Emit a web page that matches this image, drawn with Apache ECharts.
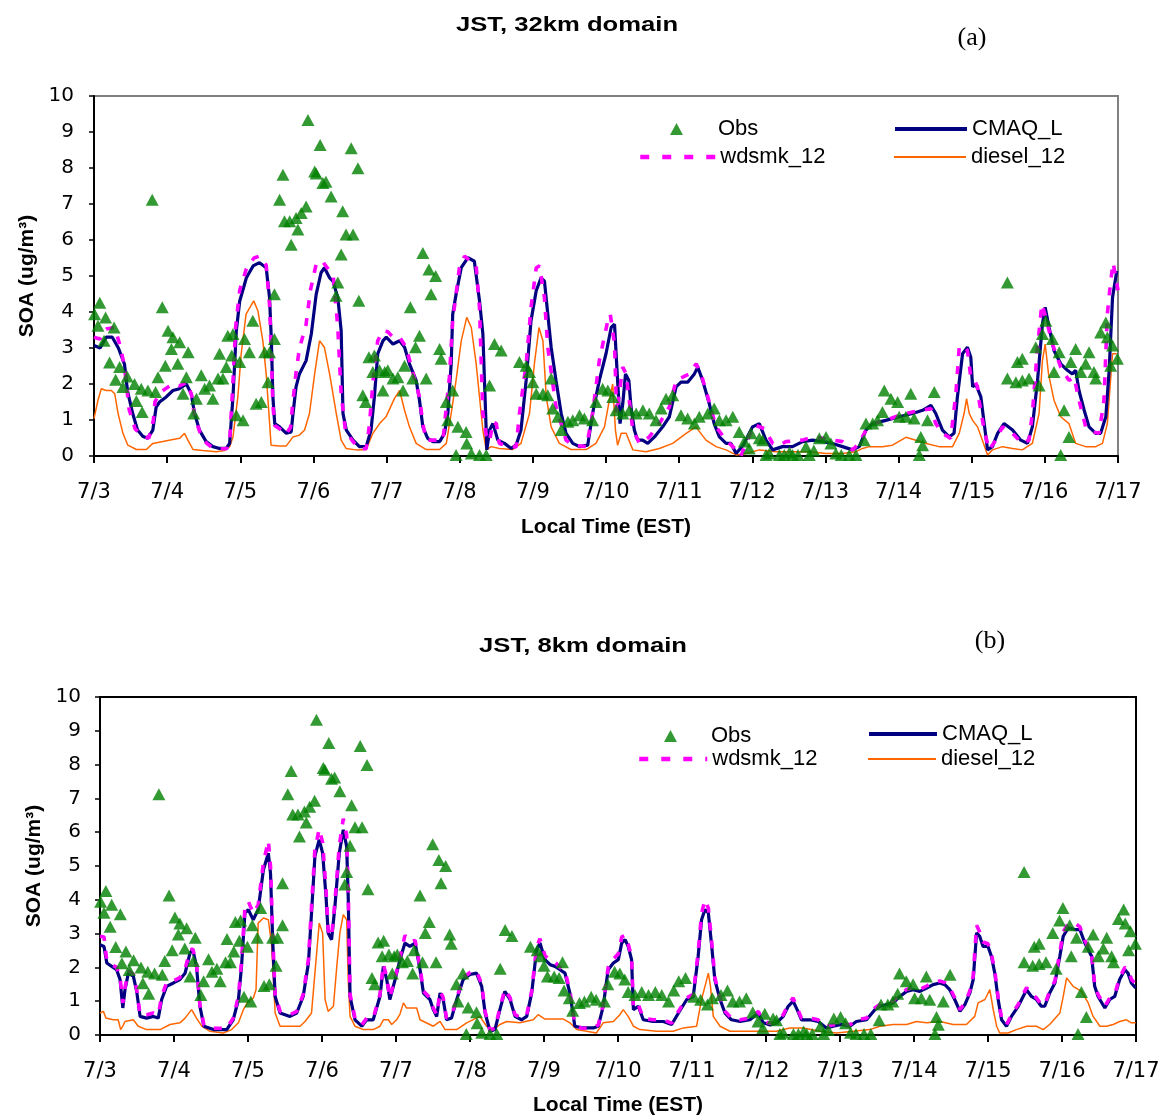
<!DOCTYPE html>
<html>
<head>
<meta charset="utf-8">
<script src="https://cdn.jsdelivr.net/npm/echarts@6/dist/echarts.min.js"></script>
<style>
  html, body { margin: 0; padding: 0; background: #fff; }
  #chart { width: 1164px; height: 1119px; }
</style>
</head>
<body>
<div id="chart"></div>
<script>
// x values are hours since 7/3 00:00 EST; y values are SOA in ug/m3
const dayLabels = ['7/3','7/4','7/5','7/6','7/7','7/8','7/9','7/10','7/11','7/12','7/13','7/14','7/15','7/16','7/17'];
const panelTitles = ['JST, 32km domain', 'JST, 8km domain'];
const panelTags = ['(a)', '(b)'];

// 32 km domain
const cmaq32 = [[0,3.07],[2,3.0],[4,3.3],[6,3.3],[8,3.0],[10,2.55],[11,1.8],[12.7,1.18],[14.3,0.72],[16,0.55],[17.6,0.49],[19.3,0.72],[20.4,1.36],[21.5,1.5],[23.7,1.64],[25.9,1.82],[28,1.87],[30.3,2.0],[31.9,1.73],[33,1.18],[34.6,0.72],[36.8,0.4],[39,0.26],[41.2,0.21],[43.4,0.21],[44.5,0.35],[45.6,1.64],[46.7,3.48],[47.8,4.3],[50,4.95],[52.2,5.28],[54.3,5.37],[56.5,5.23],[57.6,4.4],[58.2,3.2],[58.7,1.64],[59.3,0.9],[60.9,0.81],[63.1,0.63],[64.7,0.67],[65.3,1.18],[66.3,1.92],[67.4,2.28],[69.6,2.65],[71.3,3.39],[72.9,4.49],[74.5,5.09],[75.6,5.23],[77.3,4.95],[78.4,4.86],[80,4.4],[81.1,3.48],[81.7,1.18],[82.8,0.72],[85,0.44],[87.1,0.26],[89.3,0.26],[90.9,0.72],[92,1.64],[93.1,2.84],[94.8,3.2],[95.9,3.3],[98.1,3.11],[100.3,3.2],[101.9,3.02],[103.5,2.56],[105.7,2.1],[106.8,1.55],[107.9,0.81],[109.5,0.49],[111.2,0.4],[113.4,0.4],[115,0.63],[116.1,1.18],[117.2,2.56],[117.7,3.94],[118.8,4.49],[120.5,5.23],[122.7,5.51],[124.8,5.41],[126.5,4.31],[127.6,3.39],[128.5,1.18],[128.9,0.17],[129.8,0.72],[130.9,0.9],[132.5,0.44],[134.7,0.35],[136.9,0.21],[138.5,0.3],[140.1,0.72],[141.8,2.1],[143.4,3.76],[145.1,4.59],[146.7,4.95],[147.8,4.86],[148.9,3.94],[150,3.02],[151.6,2.1],[153.3,1.18],[154.9,0.63],[157.1,0.35],[159.3,0.26],[162,0.3],[163.6,1.18],[165.8,2.1],[168,2.84],[169.7,3.57],[170.8,3.66],[171.5,2.56],[172.6,0.9],[173.5,1.45],[174.4,2.28],[175.5,2.1],[176.2,1.36],[177.3,0.72],[178.4,0.44],[180,0.44],[181.7,0.35],[183.9,0.53],[186.6,0.81],[188.8,1.09],[191,1.92],[192.6,2.05],[194.8,2.05],[197,2.28],[198.1,2.47],[199.7,2.1],[201.9,1.45],[203.5,0.9],[205.2,0.53],[207.4,0.35],[209,0.35],[210.7,0.07],[213,0.3],[216.1,0.81],[218.3,0.9],[220.5,0.44],[222.7,0.17],[225.9,0.26],[229.2,0.26],[232.5,0.4],[235.8,0.44],[239.1,0.4],[242.3,0.35],[245.6,0.26],[248.9,0.17],[251.1,0.26],[253.3,0.72],[255.5,0.9],[259.8,0.99],[264.2,1.09],[268.6,1.18],[271.9,1.27],[274.6,1.41],[276.2,1.18],[278.4,0.72],[280.6,0.53],[282.2,0.63],[283.3,1.64],[285,2.84],[286.6,3.02],[287.7,2.74],[288.3,1.92],[289.3,2.0],[291,1.64],[292.1,0.9],[293.2,0.17],[294.8,0.26],[296.5,0.63],[298.6,0.9],[301.4,0.72],[304.1,0.44],[306.3,0.35],[307.9,0.81],[309.6,2.1],[311.2,3.66],[312.1,4.13],[313.4,3.57],[315,2.93],[317.2,2.56],[319.4,2.38],[321,2.28],[322.1,2.38],[323.2,1.82],[324.9,1.27],[326.5,0.81],[328.7,0.63],[330.3,0.63],[332,1.09],[333.1,2.38],[334.2,4.4],[335.6,5.14]];

const wdsmk32 = [[0,3.3],[1.9,3.25],[4,3.53],[6.8,3.57],[8.4,3.11],[10,2.5],[11.5,1.3],[13.5,0.75],[16,0.55],[18,0.5],[19.5,1.0],[20,1.5],[21.5,1.75],[24,1.9],[26,2.0],[28,1.95],[30.5,2.05],[32,1.7],[33,1.1],[35,0.6],[37,0.35],[39,0.22],[41,0.2],[43.5,0.2],[44.5,0.4],[45.5,1.9],[46.5,3.6],[47.8,4.6],[50,5.2],[52.5,5.5],[54.2,5.55],[56.5,5.3],[57.6,4.2],[58.2,2.8],[58.7,1.4],[59.3,0.85],[61,0.75],[63,0.6],[64.5,0.8],[65.3,1.55],[66.4,2.4],[67.4,2.98],[69.6,3.66],[71,4.6],[73,5.37],[75,5.4],[77.3,5.14],[78.5,5.0],[80,3.57],[81.1,1.73],[82.5,0.7],[85,0.4],[87.1,0.2],[89.3,0.2],[90.3,0.81],[92,2.5],[93.1,3.2],[94.8,3.48],[96.4,3.45],[98.1,3.3],[100.3,3.3],[102.4,3.02],[106.8,1.64],[107.9,0.9],[109,0.44],[111,0.44],[114.5,0.44],[116.6,2.19],[117.7,3.76],[119.9,5.23],[121.6,5.55],[125.4,5.28],[126.5,4.1],[127.6,1.18],[128.7,0.6],[129.8,0.4],[130.9,0.95],[132,0.9],[133,0.35],[135,0.3],[138.5,0.25],[139.6,1.18],[141.8,2.56],[143.4,4.13],[145.1,5.23],[146.2,5.28],[147.8,4.4],[148.9,3.02],[151.6,1.36],[154.9,0.44],[157,0.3],[161.6,0.26],[163.6,1.18],[165.8,2.65],[168.6,3.76],[169.4,3.94],[170.8,3.11],[171.5,1.18],[173.5,2.47],[174.6,2.28],[176.8,0.72],[179,0.35],[182.2,0.53],[185.5,0.9],[188.8,1.36],[191,2.1],[193.2,2.19],[195.3,2.28],[197.6,2.56],[199.2,2.28],[201.4,1.64],[204.1,0.81],[207.4,0.44],[210.7,0.17],[212.3,0.0],[213.9,0.35],[216.7,0.86],[220,0.76],[222.7,0.35],[225,0.3],[227,0.4],[232.5,0.44],[235.8,0.53],[239.1,0.49],[242.3,0.44],[245.6,0.4],[248.9,0.17],[251.1,0.35],[253.3,0.72],[255.5,0.9],[259.8,0.99],[264.2,1.13],[268.6,1.22],[271.9,1.27],[274.6,1.32],[276.2,0.9],[278.4,0.63],[281.1,0.49],[282.8,1.73],[283.9,3.02],[285.2,3.07],[286.6,2.93],[287.7,2.19],[288.8,2.1],[289.9,1.93],[290.4,1.55],[292.1,0.72],[293.7,0.17],[295.9,0.44],[298.1,0.81],[301.4,0.63],[304.6,0.35],[306.8,0.44],[307.9,1.18],[309.6,3.02],[311,4.22],[312.3,3.85],[314.5,3.11],[317.2,2.47],[319.9,2.1],[321.6,2.19],[323.2,1.55],[325.4,0.81],[327.6,0.67],[329.8,0.63],[331.4,1.55],[332.5,3.94],[333.6,4.86],[334.4,5.37],[336,4.6]];

const diesel32 = [[0,1.04],[1.3,1.55],[2.4,1.87],[4,1.82],[5.7,1.82],[6.8,1.73],[7.9,1.18],[9.5,0.63],[11.1,0.3],[13.9,0.18],[17.2,0.18],[19.3,0.35],[22.6,0.4],[25.9,0.46],[28.1,0.49],[29.7,0.63],[30.8,0.44],[32.5,0.18],[35.7,0.15],[40.1,0.12],[42.8,0.15],[44.5,0.26],[45.6,0.53],[47.2,1.64],[48.3,2.84],[49.9,3.94],[52.4,4.31],[53.8,4.03],[55.4,3.2],[56.5,2.28],[57.4,1.18],[58.1,0.3],[60.9,0.28],[63.1,0.28],[65.3,0.53],[67.4,0.58],[69.1,0.72],[70.7,1.18],[72.4,2.28],[74,3.2],[75.6,3.02],[77.3,2.28],[79.5,1.18],[81.1,0.44],[82.7,0.21],[86,0.17],[89.3,0.18],[91.5,0.63],[93.7,0.9],[95.9,1.1],[98.6,1.6],[100.3,1.82],[101.9,1.27],[103.5,0.81],[105.7,0.35],[109,0.18],[113.4,0.18],[115.6,0.35],[117.2,1.18],[118.8,2.1],[120.5,3.2],[122.3,3.85],[123.8,3.57],[125.4,2.56],[126.5,1.64],[127.6,0.72],[128.7,0.17],[130.3,0.26],[133,0.21],[137.4,0.18],[140.1,0.35],[142.9,1.18],[144.5,2.56],[146,3.57],[147.3,3.2],[148.4,1.64],[150,0.81],[152.7,0.35],[156.5,0.18],[161.5,0.18],[164.7,0.35],[167.5,0.81],[169.1,1.55],[170.2,2.0],[171.1,0.72],[171.8,0.3],[173,0.63],[174.6,0.63],[176.8,0.17],[181.1,0.12],[185.5,0.21],[189.9,0.35],[194.3,0.63],[197.5,0.81],[200.8,0.44],[204.1,0.26],[207.4,0.17],[210.7,0.03],[214,0.07],[218.3,0.17],[223.8,0.12],[229.2,0.12],[234.7,0.12],[240.2,0.07],[245.6,0.07],[250,0.12],[252.2,0.21],[254.4,0.26],[258.7,0.26],[262,0.3],[266.4,0.52],[269.7,0.44],[273,0.35],[277.3,0.26],[281.7,0.26],[283.9,0.63],[285.5,1.18],[286.3,1.59],[287.2,1.18],[288.3,0.99],[289.9,0.81],[291.5,0.44],[293.2,0.03],[294.8,0.17],[298.1,0.26],[301.4,0.21],[304.6,0.17],[307.9,0.35],[310.1,1.18],[311.2,2.65],[312.1,3.11],[313.2,2.28],[315,1.55],[317.2,1.09],[319.9,0.9],[322.1,0.35],[325.4,0.26],[328.7,0.26],[330.9,0.35],[332.5,0.9],[334.2,2.84],[335.6,2.84]];

// 8 km domain
const cmaq8 = [[0,2.67],[1.3,2.62],[2.2,2.13],[3.8,2.03],[5.4,1.93],[6.5,1.64],[7.4,0.8],[8.1,1.34],[9.2,1.83],[10.8,1.74],[11.9,1.29],[13,0.55],[15.1,0.5],[17.3,0.55],[18.9,0.5],[20,1.05],[21.6,1.44],[23.8,1.54],[25.9,1.64],[27.6,1.83],[29.2,2.43],[30.1,2.52],[31.3,2.03],[32.4,0.85],[33.7,0.26],[36.8,0.16],[41.1,0.16],[43.2,0.45],[44.9,1.05],[45.9,2.03],[47,3.61],[48.1,3.71],[49.7,3.41],[51.3,3.71],[53,4.89],[54.6,5.38],[55.3,4.79],[56,2.82],[56.8,1.14],[58.4,0.65],[61.6,0.55],[63.8,0.65],[65.9,1.14],[67.6,2.13],[68.6,3.61],[69.7,5.29],[71.1,5.78],[72.2,5.38],[73.3,4.1],[74,3.02],[75.1,2.82],[76.2,3.81],[77.6,5.38],[78.9,6.07],[80,5.58],[80.5,4.1],[81.1,1.14],[82.7,0.45],[84.9,0.26],[86.5,0.45],[88.6,0.45],[90.8,1.14],[91.9,2.03],[93,1.64],[94,1.05],[95.7,1.64],[97.3,2.23],[98.9,2.72],[100.5,2.62],[102.2,2.72],[103.8,1.93],[104.9,1.24],[107,1.05],[108.1,0.75],[109.2,0.55],[110.3,1.24],[111.3,1.05],[112.4,0.45],[114,0.5],[115.7,1.05],[117.8,1.64],[120,1.79],[122.1,1.83],[123.8,1.44],[124.9,0.65],[126.5,0.11],[128.1,0.16],[129.7,0.75],[131.3,1.29],[133,1.05],[134.6,0.55],[136.7,0.45],[138.4,0.55],[140,1.24],[141.6,2.52],[142.7,2.72],[144.3,2.23],[146,2.08],[147.6,2.03],[149.2,1.93],[150.8,1.83],[152.4,1.24],[154,0.26],[156.2,0.21],[160,0.21],[161.6,0.26],[163.2,0.85],[164.8,1.93],[166.5,2.13],[168.1,2.23],[169.2,2.72],[170.3,2.82],[171.3,2.62],[172.4,2.23],[173,0.75],[174.6,0.85],[176.2,0.45],[179.4,0.4],[182.7,0.4],[185.4,0.31],[187.6,0.65],[190.3,1.05],[192.4,1.14],[194,2.33],[195.1,3.41],[196.2,3.71],[197.3,3.61],[198.4,2.62],[199.4,1.64],[201.1,1.05],[202.7,0.65],[204.8,0.45],[207.6,0.4],[210.8,0.45],[213.5,0.65],[215.1,0.36],[217.3,0.3],[219.4,0.36],[221.6,0.55],[223.2,0.85],[224.8,1.0],[226.1,0.75],[227.5,0.45],[230.2,0.45],[232.9,0.4],[235.6,0.21],[237.8,0.26],[240.5,0.31],[243.2,0.26],[245.3,0.4],[248.6,0.45],[251.3,0.75],[252.9,0.85],[255.1,0.9],[257.2,0.95],[259.4,1.14],[261.6,1.29],[263.7,1.34],[265.9,1.29],[268.1,1.39],[270.2,1.49],[272.4,1.54],[274,1.49],[275.6,1.34],[277.2,1.05],[278.9,0.7],[280.5,0.9],[282.1,1.24],[283.2,1.64],[284.3,3.02],[285.3,2.92],[286.4,2.62],[288,2.62],[289.1,2.33],[290.2,1.83],[291.3,1.05],[292.4,0.45],[294,0.26],[295.6,0.55],[297.8,0.85],[299.4,1.14],[300.5,1.34],[302.1,1.14],[303.7,1.05],[305.3,0.85],[306.4,0.85],[308,1.24],[309.7,1.54],[311.3,2.33],[312.4,2.92],[314,3.17],[316.2,3.12],[317.8,3.12],[319.4,2.72],[321.6,2.33],[322.6,1.44],[323.7,1.14],[325.9,0.8],[327.5,1.05],[329.1,1.14],[330.7,1.64],[332.4,1.93],[333.4,1.83],[334.5,1.54],[335.9,1.39]];

const wdsmk8 = [[0,2.92],[1.3,2.9],[2.2,2.2],[3.8,2.08],[5.4,2.0],[6.5,1.7],[7.4,0.95],[8.1,1.4],[9.2,1.9],[10.8,1.8],[11.9,1.35],[13,0.6],[15.1,0.6],[17.3,0.65],[18.9,0.6],[20,1.15],[21.6,1.55],[23.8,1.6],[25.9,1.7],[27.6,1.95],[29.2,2.5],[30.1,2.55],[31.3,2.1],[32.4,0.9],[33.7,0.3],[36.8,0.2],[41.1,0.2],[43.2,0.5],[44.9,1.15],[45.9,2.2],[47,3.75],[48.1,3.95],[49.7,3.6],[51.3,3.85],[53,5.1],[54.6,5.75],[55.3,5.0],[56,3.0],[56.8,1.2],[58.4,0.7],[61.6,0.6],[63.8,0.7],[65.9,1.2],[67.6,2.25],[68.6,3.8],[69.7,5.5],[71.1,6.1],[72.2,5.7],[73.3,4.3],[74,3.1],[75.1,2.9],[76.2,3.95],[77.6,5.6],[78.9,6.4],[80,5.9],[80.5,4.3],[81.1,1.2],[82.7,0.5],[84.9,0.3],[86.5,0.5],[88.6,0.5],[90.8,1.2],[91.9,2.1],[93,1.7],[94,1.1],[95.7,1.7],[97.3,2.3],[98.9,2.95],[100.5,2.75],[102.2,2.8],[103.8,2.0],[104.9,1.3],[107,1.1],[108.1,0.8],[109.2,0.6],[110.3,1.3],[111.3,1.1],[112.4,0.5],[114,0.55],[115.7,1.1],[117.8,1.7],[120,1.85],[122.1,1.9],[123.8,1.5],[124.9,0.7],[126.5,0.15],[128.1,0.2],[129.7,0.8],[131.3,1.35],[133,1.1],[134.6,0.6],[136.7,0.5],[138.4,0.6],[140,1.3],[141.6,2.6],[142.7,2.85],[144.3,2.35],[146,2.2],[147.6,2.15],[149.2,2.0],[150.8,1.9],[152.4,1.3],[154,0.3],[156.2,0.2],[160,0.2],[161.6,0.3],[163.2,0.9],[164.8,2.0],[166.5,2.25],[168.1,2.4],[169.2,2.9],[170.3,2.95],[171.3,2.7],[172.4,2.3],[173,0.8],[174.6,0.9],[176.2,0.5],[179.4,0.45],[182.7,0.45],[185.4,0.35],[187.6,0.7],[190.3,1.1],[192.4,1.2],[194,2.45],[195.1,3.6],[196.2,4.0],[197.3,3.75],[198.4,2.75],[199.4,1.7],[201.1,1.1],[202.7,0.7],[204.8,0.5],[207.6,0.45],[210.8,0.5],[213.5,0.7],[215.1,0.4],[217.3,0.35],[219.4,0.4],[221.6,0.6],[223.2,0.9],[224.8,1.1],[226.1,0.8],[227.5,0.5],[230.2,0.5],[232.9,0.45],[235.6,0.25],[237.8,0.3],[240.5,0.35],[243.2,0.3],[245.3,0.45],[248.6,0.5],[251.3,0.8],[252.9,0.9],[255.1,0.95],[257.2,1.0],[259.4,1.2],[261.6,1.35],[263.7,1.4],[265.9,1.35],[268.1,1.45],[270.2,1.55],[272.4,1.6],[274,1.55],[275.6,1.4],[277.2,1.1],[278.9,0.75],[280.5,0.95],[282.1,1.3],[283.2,1.75],[284.3,3.25],[285.3,3.05],[286.4,2.75],[288,2.7],[289.1,2.4],[290.2,1.9],[291.3,1.1],[292.4,0.5],[294,0.3],[295.6,0.6],[297.8,0.9],[299.4,1.2],[300.5,1.4],[302.1,1.2],[303.7,1.1],[305.3,0.9],[306.4,0.9],[308,1.3],[309.7,1.6],[311.3,2.45],[312.4,3.05],[314,3.3],[316.2,3.3],[317.8,3.2],[319.4,2.8],[321.6,2.4],[322.6,1.5],[323.7,1.2],[325.9,0.85],[327.5,1.1],[329.1,1.2],[330.7,1.7],[332.4,2.0],[333.4,1.95],[334.5,1.65],[335.9,1.5]];

const diesel8 = [[0,0.65],[1.1,0.7],[1.9,0.5],[4.3,0.45],[5.9,0.45],[6.7,0.16],[7.4,0.26],[8.1,0.4],[10.8,0.45],[12.4,0.26],[15.1,0.16],[19.5,0.16],[22.7,0.31],[25.9,0.36],[27.6,0.5],[29.7,0.75],[31.3,0.5],[33,0.26],[35.7,0.11],[40,0.06],[42.7,0.16],[44.9,0.36],[46.5,0.75],[48.1,1.0],[49.7,1.09],[50.6,1.34],[51.3,3.31],[53,3.46],[54.6,3.41],[55.7,2.62],[56.8,0.65],[58.4,0.26],[62.7,0.26],[64.9,0.26],[66.5,0.4],[68.6,0.65],[69.7,1.83],[71.1,3.31],[72.2,3.02],[73,1.05],[74,0.7],[75.7,0.85],[76.8,2.03],[77.8,3.02],[78.9,3.56],[80,3.41],[80.5,1.64],[81.1,0.55],[82.7,0.26],[85.4,0.16],[88.6,0.16],[90.8,0.26],[91.9,0.45],[93.5,0.45],[94.6,0.31],[96.2,0.45],[97.3,0.62],[98.4,0.95],[99.4,0.8],[102.7,0.8],[103.8,0.45],[108.1,0.26],[110.3,0.4],[111.9,0.16],[115.7,0.16],[118.9,0.36],[123.2,0.55],[125.4,0.26],[127.6,0.16],[129.7,0.31],[131.9,0.4],[136.2,0.36],[140.5,0.45],[142.1,0.6],[144.3,0.47],[150.3,0.47],[152.4,0.36],[154.6,0.16],[157.8,0.11],[161,0.06],[163.2,0.36],[166.5,0.4],[168.6,0.6],[169.7,0.75],[171.3,0.55],[173,0.26],[175.1,0.16],[180.5,0.11],[185.9,0.11],[189.2,0.21],[193.5,0.26],[195.1,1.05],[196.2,1.44],[197.3,1.83],[198,1.44],[198.9,0.55],[201.1,0.26],[204.3,0.11],[209.7,0.11],[215.1,0.11],[219.4,0.11],[223.7,0.21],[228.1,0.21],[233.5,0.11],[238.9,0.06],[244.3,0.11],[249.7,0.16],[252.9,0.26],[257.2,0.31],[261.6,0.31],[264.8,0.4],[268.1,0.36],[272.4,0.4],[276.7,0.31],[281,0.31],[283.7,0.55],[284.8,0.95],[287,1.05],[288.6,1.34],[289.7,0.75],[290.8,0.26],[291.8,0.06],[294.5,0.06],[297.2,0.16],[300.5,0.26],[303.7,0.26],[305.9,0.16],[308,0.31],[311.3,0.65],[312.4,1.14],[313.5,1.69],[315.6,1.44],[318.3,1.29],[320.5,0.95],[322.1,0.55],[324.3,0.26],[326.4,0.26],[328.6,0.31],[330.7,0.4],[332.9,0.45],[334.5,0.36],[335.9,0.36]];

// observed SOA at JST (same measurements in both panels)
const obsSoa = [[0.2,3.94],[1.3,3.62],[1.9,4.26],[3.3,3.2],[3.8,3.85],[5.1,2.6],[6.6,3.57],[7.1,2.12],[8.4,2.47],[9.5,1.92],[10.9,2.21],[13.3,2.0],[13.9,1.53],[15.5,1.87],[15.8,1.22],[17.7,1.82],[19.1,7.12],[20.2,1.78],[21,2.19],[22.4,4.13],[23.4,2.51],[24.3,3.48],[25.4,2.97],[25.9,3.3],[27.5,2.56],[28.1,3.16],[29.2,1.73],[30.3,2.19],[30.9,2.88],[32.7,1.18],[33.6,1.59],[35.2,2.24],[36.3,1.87],[37.9,1.96],[39,1.59],[40.7,2.15],[41.2,2.84],[42.3,2.15],[43.4,2.47],[43.9,3.34],[45.2,2.79],[45.6,3.39],[46.7,1.13],[47.8,2.61],[48.9,0.99],[49.4,3.25],[51,2.88],[52.1,3.76],[53.2,1.45],[54.9,1.5],[56,2.88],[57.1,2.05],[57.6,2.88],[59.2,4.49],[59.2,3.25],[60.9,7.12],[62,7.81],[62.5,6.52],[64.2,6.52],[64.7,5.87],[66.3,6.61],[66.9,6.29],[68,6.75],[69.6,6.93],[70.2,9.33],[72.4,7.9],[72.9,7.85],[74.2,8.64],[75.1,7.58],[76.1,7.62],[77.8,7.21],[79.4,4.45],[80,4.82],[81.1,5.6],[81.6,6.8],[82.7,6.15],[84.4,8.55],[85,6.15],[86.6,7.99],[86.9,4.31],[88.2,1.69],[89.1,1.5],[90.2,2.74],[91.5,2.33],[92,2.79],[93.7,2.38],[94.8,1.82],[95.4,2.33],[96.4,2.38],[98.1,2.15],[99.7,2.19],[101.4,1.82],[101.9,2.51],[103.8,4.13],[104.6,2.15],[105.5,3.02],[106.8,3.34],[107.9,5.64],[109,2.15],[109.9,5.18],[110.6,4.49],[112.1,5.0],[113.4,2.97],[113.9,2.7],[115.6,1.5],[116.1,0.99],[117.7,1.82],[118.8,0.03],[119.4,0.81],[122.1,0.67],[122.3,0.35],[123.8,0.07],[126.5,0.03],[128.7,0.03],[129.8,1.96],[131.4,3.11],[133.6,2.93],[139.6,2.61],[141.8,2.51],[142.9,2.33],[144,2.05],[145.1,1.73],[147.3,1.73],[148.9,1.69],[150,2.15],[150.5,1.32],[152.2,1.09],[153.3,0.72],[155.5,0.95],[157.1,0.99],[159.3,1.13],[160.9,1.04],[163.6,0.99],[164.7,1.5],[166.9,1.87],[168.6,1.82],[170.2,1.64],[171.3,1.27],[173.5,1.18],[175.7,1.27],[177.9,1.18],[180.1,1.27],[182.2,1.18],[184.4,0.99],[186.1,1.32],[187.7,1.59],[189.9,1.69],[192.6,1.13],[194.8,1.04],[197,0.9],[198.6,1.09],[201.4,1.18],[203.5,1.32],[205.2,0.99],[207.4,0.99],[209.6,1.09],[211.7,0.67],[213.4,0.4],[215,0.21],[215.6,0.63],[218.3,0.49],[219.4,0.44],[220.5,0.03],[221.6,0.07],[224.9,0.03],[226.5,0.03],[228.2,0.1],[229.2,0.03],[231,0.03],[233.6,0.26],[234.7,0.03],[236.2,0.15],[238,0.49],[240.2,0.53],[241.8,0.35],[243.4,0.07],[245.2,0.03],[247.8,0.03],[250,0.03],[252.7,0.44],[253.3,0.9],[255.5,0.9],[257.1,0.99],[258.7,1.22],[259.3,1.82],[261.5,1.59],[263.7,1.5],[264.2,1.09],[266.4,1.09],[268,1.73],[269.1,1.04],[270.8,0.03],[271.3,0.53],[271.9,0.3],[273.5,0.99],[275.7,1.78],[299.7,4.82],[299.7,2.15],[302.5,2.05],[303,2.61],[304.6,2.1],[304.6,2.7],[306.8,2.15],[309,3.02],[310.1,1.96],[311.2,3.39],[312.3,3.76],[314.5,3.25],[315,2.33],[316.7,2.88],[317.2,0.03],[318.3,1.27],[319.9,0.53],[320.5,2.61],[322.1,2.97],[323.8,2.33],[325.4,2.56],[326.5,2.88],[328.1,2.33],[328.7,2.15],[330.3,3.43],[332,3.71],[332.5,3.3],[333.6,2.51],[334.2,3.07],[335.8,2.7]];

const panelModel = [
  { cmaq: cmaq32, wdsmk: wdsmk32, diesel: diesel32 },
  { cmaq: cmaq8,  wdsmk: wdsmk8,  diesel: diesel8 }
];

const COLORS = { obs: '#008000', cmaq: '#000080', wdsmk: '#FF00FF', diesel: '#FF6600' };
const TICK_FONT = 'DejaVu Sans';
const TEXT_FONT = 'Liberation Sans';

// panel geometry (pixels)
const grids = [
  { left: 94,  top: 96,  width: 1024, height: 360, show: true, borderColor: '#808080', borderWidth: 2, backgroundColor: 'transparent' },
  { left: 100, top: 697, width: 1036, height: 338, show: true, borderColor: '#000000', borderWidth: 2, backgroundColor: 'transparent' }
];

function xAxisFor(i) {
  return {
    gridIndex: i, type: 'value', min: 0, max: 336, interval: 24,
    axisLine: { show: true, onZero: false, lineStyle: { color: '#000', width: 2 } },
    axisTick: { show: true, inside: false, length: 7, lineStyle: { color: '#000', width: 2 } },
    axisLabel: {
      formatter: v => dayLabels[Math.round(v / 24)] || '',
      fontFamily: TICK_FONT, fontSize: 21, color: '#000', margin: 26,
      showMinLabel: true, showMaxLabel: true, hideOverlap: false
    },
    splitLine: { show: false },
    name: 'Local Time (EST)', nameLocation: 'middle', nameGap: i === 0 ? 61 : 60,
    nameTextStyle: { fontFamily: TEXT_FONT, fontWeight: 'bold', fontSize: 21, color: '#000' }
  };
}

function yAxisFor(i) {
  return {
    gridIndex: i, type: 'value', min: 0, max: 10, interval: 1,
    axisLine: { show: true, lineStyle: { color: '#000', width: 2 } },
    axisTick: { show: true, inside: false, length: 5, lineStyle: { color: '#000', width: 1.5 } },
    axisLabel: { fontFamily: TICK_FONT, fontSize: 20, color: '#000', margin: i === 0 ? 20 : 19 },
    splitLine: { show: false },
    name: 'SOA (ug/m³)', nameLocation: 'middle', nameRotate: 90, nameGap: i === 0 ? 53 : 55,
    nameTextStyle: { fontFamily: TEXT_FONT, fontWeight: 'bold', fontSize: 21, color: '#000' }
  };
}

const series = [];
panelModel.forEach((p, i) => {
  series.push({
    name: 'diesel_12', type: 'line', xAxisIndex: i, yAxisIndex: i, data: p.diesel,
    symbol: 'none', z: 2, lineStyle: { color: COLORS.diesel, width: 1.5 }, itemStyle: { color: COLORS.diesel }
  });
  series.push({
    name: 'CMAQ_L', type: 'line', xAxisIndex: i, yAxisIndex: i, data: p.cmaq,
    symbol: 'none', z: 3, lineStyle: { color: COLORS.cmaq, width: 3.2 }, itemStyle: { color: COLORS.cmaq }
  });
  series.push({
    name: 'wdsmk_12', type: 'line', xAxisIndex: i, yAxisIndex: i, data: p.wdsmk,
    symbol: 'none', z: 4, lineStyle: { color: COLORS.wdsmk, width: 3.6, type: [8, 10] }, itemStyle: { color: COLORS.wdsmk }
  });
  series.push({
    name: 'Obs', type: 'scatter', xAxisIndex: i, yAxisIndex: i, data: obsSoa,
    symbol: 'triangle', symbolSize: [13, 12], z: 5, itemStyle: { color: COLORS.obs }
  });
});

// legend key strokes
const legendStroke = {
  'CMAQ_L':    { color: COLORS.cmaq,   width: 4,   type: 'solid' },
  'wdsmk_12':  { color: COLORS.wdsmk,  width: 4.5, type: [9, 13] },
  'diesel_12': { color: COLORS.diesel, width: 2,   type: 'solid' }
};

// one legend block per entry, so each sits where it belongs in its panel
const legendSpots = [
  // panel a
  { name: 'Obs',       left: 670, cy: 129, w: 13, h: 12, pad: 30 },
  { name: 'CMAQ_L',    left: 893, cy: 129, w: 72, h: 14, pad: 0 },
  { name: 'wdsmk_12',  left: 638, cy: 157, w: 75, h: 14, pad: 0 },
  { name: 'diesel_12', left: 893, cy: 157, w: 72, h: 14, pad: 0 },
  // panel b
  { name: 'Obs',       left: 664, cy: 736, w: 13, h: 12, pad: 29 },
  { name: 'CMAQ_L',    left: 867, cy: 734, w: 68, h: 14, pad: 0 },
  { name: 'wdsmk_12',  left: 637, cy: 759, w: 68, h: 14, pad: 0 },
  { name: 'diesel_12', left: 867, cy: 759, w: 68, h: 14, pad: 0 }
];
const legends = legendSpots.map(s => {
  const lg = {
    data: [s.name], left: s.left, top: s.cy - 12, orient: 'horizontal', padding: 0,
    itemWidth: s.w, itemHeight: s.h, selectedMode: false,
    textStyle: { fontFamily: TEXT_FONT, fontSize: 22, color: '#000', lineHeight: 24, padding: [0, 0, 0, s.pad] }
  };
  if (s.name === 'Obs') {
    lg.icon = 'triangle';
  } else {
    // line entries show just the stroke, no marker in the middle
    lg.itemStyle = { opacity: 0 };
    lg.lineStyle = legendStroke[s.name];
  }
  return lg;
});

const titleText = [
  { type: 'text', x: 567, y: 25, scaleX: 1.22, style: { text: panelTitles[0], font: 'bold 21px "Liberation Sans"', fill: '#000', textAlign: 'center', textVerticalAlign: 'middle' } },
  { type: 'text', x: 972, y: 38, style: { text: panelTags[0], font: '26px "Liberation Serif"', fill: '#000', textAlign: 'center', textVerticalAlign: 'middle' } },
  { type: 'text', x: 583, y: 646, scaleX: 1.22, style: { text: panelTitles[1], font: 'bold 21px "Liberation Sans"', fill: '#000', textAlign: 'center', textVerticalAlign: 'middle' } },
  { type: 'text', x: 990, y: 641, style: { text: panelTags[1], font: '26px "Liberation Serif"', fill: '#000', textAlign: 'center', textVerticalAlign: 'middle' } }
];

const chart = echarts.init(document.getElementById('chart'), null, { renderer: 'canvas' });
chart.setOption({
  backgroundColor: '#ffffff',
  animation: false,
  grid: grids,
  xAxis: [xAxisFor(0), xAxisFor(1)],
  yAxis: [yAxisFor(0), yAxisFor(1)],
  legend: legends,
  graphic: titleText,
  series: series
});
</script>
</body>
</html>
